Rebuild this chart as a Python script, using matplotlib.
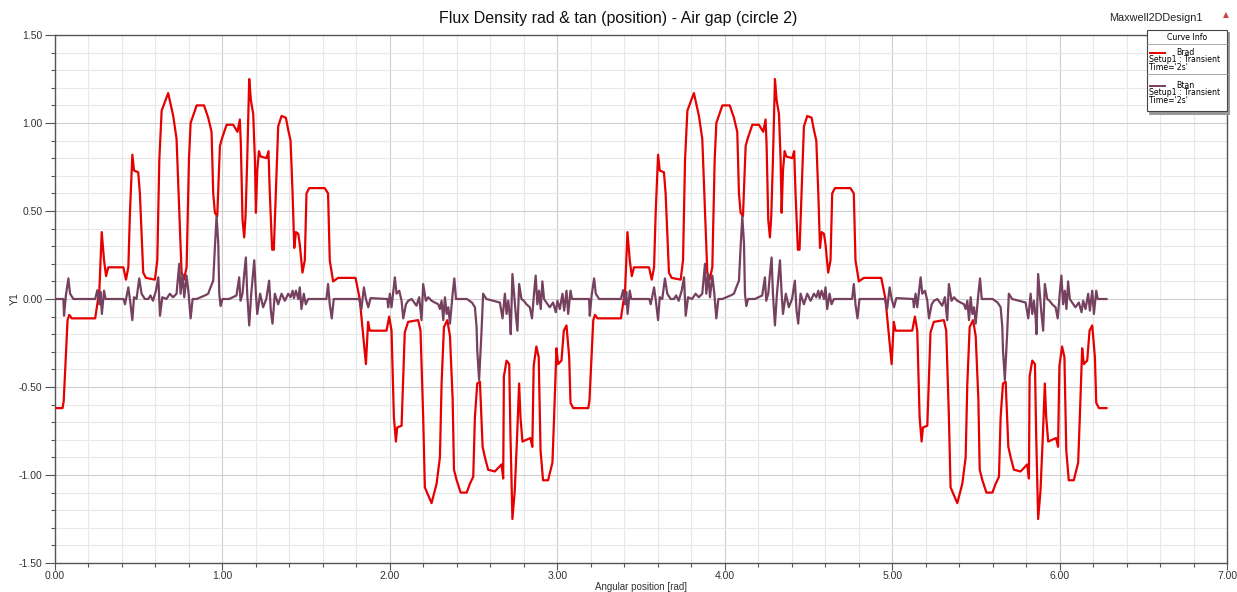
import matplotlib
matplotlib.use("Agg")
import matplotlib.pyplot as plt
from matplotlib.ticker import MultipleLocator, FormatStrFormatter
from matplotlib.patches import Rectangle

plt.rcParams['font.family'] = ['Liberation Sans', 'DejaVu Sans']

# ---- Brad, first period (angle in rad, flux density in T)
brad_angle_a = [
    0.000, 0.045, 0.052, 0.075, 0.085, 0.100, 0.240, 0.265, 0.279, 0.293,
    0.305, 0.318, 0.408, 0.424, 0.438, 0.448, 0.462, 0.472, 0.497, 0.507,
    0.527, 0.543, 0.597, 0.611, 0.623, 0.637, 0.676, 0.706, 0.726, 0.742,
    0.756, 0.770, 0.786, 0.800, 0.810, 0.846, 0.890, 0.915, 0.935, 0.945,
    0.955, 0.969, 0.985, 1.000, 1.025, 1.064, 1.090, 1.104, 1.110, 1.120,
    1.130, 1.138, 1.148, 1.160, 1.170, 1.184, 1.194, 1.200, 1.208, 1.218,
    1.228, 1.263, 1.275, 1.283, 1.297, 1.307, 1.319, 1.333, 1.353, 1.379,
    1.393, 1.407, 1.419, 1.429, 1.439, 1.453, 1.462, 1.478, 1.492, 1.502,
    1.518, 1.611, 1.631, 1.641, 1.661, 1.691, 1.795, 1.820, 1.840, 1.857,
    1.870, 1.880, 1.980, 1.996, 2.010, 2.024, 2.036, 2.044, 2.070, 2.089,
    2.109, 2.169, 2.183, 2.199, 2.209, 2.249, 2.279, 2.299, 2.309, 2.323,
    2.343, 2.359, 2.375, 2.383, 2.399, 2.423, 2.459, 2.478, 2.498, 2.508,
    2.522, 2.538, 2.554, 2.568, 2.587, 2.627, 2.667, 2.677, 2.681, 2.697,
    2.713, 2.720, 2.732, 2.746, 2.760, 2.772, 2.780, 2.792, 2.816, 2.839,
    2.851, 2.859, 2.875, 2.889, 2.900, 2.915, 2.945, 2.971, 2.981, 2.995,
    3.005, 3.025, 3.039, 3.055, 3.071, 3.079, 3.095]
brad_a = [
    -0.62, -0.62, -0.58, -0.12, -0.09, -0.11, -0.11, 0.05, 0.38, 0.22,
    0.13, 0.18, 0.18, 0.11, 0.18, 0.50, 0.82, 0.73, 0.72, 0.60,
    0.15, 0.12, 0.11, 0.22, 0.79, 1.07, 1.17, 1.04, 0.91, 0.50,
    0.15, 0.11, 0.18, 0.79, 1.00, 1.10, 1.10, 1.03, 0.95, 0.60,
    0.49, 0.47, 0.87, 0.92, 0.99, 0.99, 0.95, 1.02, 0.88, 0.45,
    0.35, 0.47, 0.79, 1.25, 1.13, 1.05, 0.79, 0.49, 0.73, 0.84,
    0.81, 0.80, 0.84, 0.60, 0.28, 0.28, 0.60, 0.98, 1.04, 1.03,
    0.96, 0.90, 0.60, 0.29, 0.38, 0.37, 0.31, 0.15, 0.22, 0.60,
    0.63, 0.63, 0.60, 0.22, 0.10, 0.12, 0.12, 0.00, -0.20, -0.37,
    -0.13, -0.18, -0.18, -0.10, -0.18, -0.67, -0.81, -0.73, -0.72, -0.19,
    -0.13, -0.12, -0.18, -0.67, -1.07, -1.16, -1.05, -0.90, -0.48, -0.16,
    -0.12, -0.21, -0.57, -0.97, -1.03, -1.10, -1.10, -1.05, -1.01, -0.67,
    -0.48, -0.47, -0.84, -0.90, -0.97, -0.98, -0.94, -1.02, -0.44, -0.35,
    -0.37, -0.76, -1.25, -1.09, -0.78, -0.48, -0.67, -0.81, -0.80, -0.79,
    -0.84, -0.38, -0.27, -0.33, -0.86, -1.03, -1.03, -0.93, -0.67, -0.28,
    -0.37, -0.35, -0.18, -0.15, -0.33, -0.59, -0.62]

# ---- Brad, second period
brad_angle_b = [
    3.140, 3.185, 3.192, 3.215, 3.225, 3.240, 3.380, 3.405, 3.419, 3.433,
    3.445, 3.458, 3.548, 3.564, 3.578, 3.588, 3.602, 3.612, 3.637, 3.647,
    3.667, 3.683, 3.737, 3.751, 3.763, 3.777, 3.816, 3.846, 3.866, 3.882,
    3.896, 3.910, 3.926, 3.940, 3.950, 3.986, 4.030, 4.055, 4.075, 4.085,
    4.095, 4.109, 4.125, 4.140, 4.165, 4.204, 4.230, 4.244, 4.250, 4.260,
    4.270, 4.278, 4.288, 4.300, 4.310, 4.324, 4.334, 4.340, 4.348, 4.358,
    4.368, 4.403, 4.415, 4.423, 4.437, 4.447, 4.459, 4.473, 4.493, 4.519,
    4.533, 4.547, 4.559, 4.569, 4.579, 4.593, 4.602, 4.618, 4.632, 4.642,
    4.658, 4.751, 4.771, 4.781, 4.801, 4.831, 4.935, 4.960, 4.980, 4.997,
    5.010, 5.020, 5.120, 5.136, 5.150, 5.164, 5.176, 5.184, 5.210, 5.229,
    5.249, 5.309, 5.323, 5.339, 5.349, 5.389, 5.419, 5.439, 5.449, 5.463,
    5.483, 5.499, 5.515, 5.523, 5.539, 5.563, 5.599, 5.618, 5.638, 5.648,
    5.662, 5.678, 5.694, 5.708, 5.727, 5.767, 5.807, 5.817, 5.821, 5.837,
    5.853, 5.860, 5.872, 5.886, 5.900, 5.912, 5.920, 5.932, 5.956, 5.979,
    5.991, 5.999, 6.015, 6.029, 6.040, 6.055, 6.085, 6.111, 6.121, 6.135,
    6.145, 6.165, 6.179, 6.195, 6.211, 6.219, 6.235, 6.280]
brad_b = [
    -0.62, -0.62, -0.58, -0.12, -0.09, -0.11, -0.11, 0.05, 0.38, 0.22,
    0.13, 0.18, 0.18, 0.11, 0.18, 0.50, 0.82, 0.73, 0.72, 0.60,
    0.15, 0.12, 0.11, 0.22, 0.79, 1.07, 1.17, 1.04, 0.91, 0.50,
    0.15, 0.11, 0.18, 0.79, 1.00, 1.10, 1.10, 1.03, 0.95, 0.60,
    0.49, 0.47, 0.87, 0.92, 0.99, 0.99, 0.95, 1.02, 0.88, 0.45,
    0.35, 0.47, 0.79, 1.25, 1.13, 1.05, 0.79, 0.49, 0.73, 0.84,
    0.81, 0.80, 0.84, 0.60, 0.28, 0.28, 0.60, 0.98, 1.04, 1.03,
    0.96, 0.90, 0.60, 0.29, 0.38, 0.37, 0.31, 0.15, 0.22, 0.60,
    0.63, 0.63, 0.60, 0.22, 0.10, 0.12, 0.12, 0.00, -0.20, -0.37,
    -0.13, -0.18, -0.18, -0.10, -0.18, -0.67, -0.81, -0.73, -0.72, -0.19,
    -0.13, -0.12, -0.18, -0.67, -1.07, -1.16, -1.05, -0.90, -0.48, -0.16,
    -0.12, -0.21, -0.57, -0.97, -1.03, -1.10, -1.10, -1.05, -1.01, -0.67,
    -0.48, -0.47, -0.84, -0.90, -0.97, -0.98, -0.94, -1.02, -0.44, -0.35,
    -0.37, -0.76, -1.25, -1.09, -0.78, -0.48, -0.67, -0.81, -0.80, -0.79,
    -0.84, -0.38, -0.27, -0.33, -0.86, -1.03, -1.03, -0.93, -0.67, -0.28,
    -0.37, -0.35, -0.18, -0.15, -0.33, -0.59, -0.62, -0.62]

# ---- Btan, first period
btan_angle_a = [
    0.000, 0.050, 0.054, 0.065, 0.080, 0.090, 0.110, 0.240, 0.253, 0.265,
    0.272, 0.280, 0.293, 0.302, 0.410, 0.418, 0.438, 0.450, 0.462, 0.472,
    0.487, 0.503, 0.517, 0.537, 0.557, 0.570, 0.585, 0.603, 0.617, 0.627,
    0.641, 0.665, 0.686, 0.705, 0.726, 0.742, 0.750, 0.762, 0.772, 0.786,
    0.798, 0.810, 0.822, 0.846, 0.870, 0.895, 0.915, 0.929, 0.945, 0.955,
    0.965, 0.975, 0.981, 0.989, 1.000, 1.040, 1.084, 1.100, 1.108, 1.120,
    1.130, 1.140, 1.148, 1.160, 1.172, 1.190, 1.200, 1.208, 1.225, 1.243,
    1.262, 1.279, 1.289, 1.299, 1.313, 1.333, 1.353, 1.373, 1.393, 1.407,
    1.419, 1.427, 1.439, 1.453, 1.462, 1.472, 1.486, 1.498, 1.512, 1.621,
    1.631, 1.641, 1.653, 1.665, 1.817, 1.830, 1.845, 1.857, 1.871, 1.885,
    1.985, 1.990, 2.000, 2.010, 2.030, 2.040, 2.056, 2.070, 2.080, 2.096,
    2.110, 2.130, 2.159, 2.175, 2.189, 2.199, 2.215, 2.229, 2.249, 2.269,
    2.289, 2.299, 2.309, 2.319, 2.329, 2.339, 2.349, 2.359, 2.375, 2.385,
    2.395, 2.460, 2.490, 2.508, 2.518, 2.522, 2.533, 2.547, 2.557, 2.577,
    2.617, 2.657, 2.673, 2.687, 2.697, 2.707, 2.717, 2.722, 2.732, 2.742,
    2.752, 2.762, 2.772, 2.786, 2.800, 2.816, 2.836, 2.849, 2.861, 2.871,
    2.881, 2.891, 2.901, 2.911, 2.921, 2.935, 2.955, 2.975, 2.991, 3.001,
    3.015, 3.031, 3.041, 3.055, 3.065, 3.079, 3.088]
btan_a = [
    0.000, 0.000, -0.095, 0.020, 0.117, 0.030, 0.000, 0.000, 0.050, -0.030,
    0.040, -0.085, 0.047, 0.000, 0.000, -0.030, 0.066, -0.020, -0.120, 0.010,
    0.000, 0.117, 0.030, 0.000, 0.000, 0.020, -0.010, 0.047, 0.123, -0.095,
    0.010, 0.000, 0.030, 0.010, 0.030, 0.200, 0.030, 0.142, 0.010, 0.133,
    0.030, -0.110, 0.000, 0.000, 0.010, 0.020, 0.030, 0.066, 0.104, 0.294,
    0.470, 0.320, 0.030, -0.040, 0.000, 0.000, 0.020, 0.123, -0.010, 0.030,
    0.142, 0.236, 0.030, -0.150, 0.030, 0.220, 0.030, -0.085, 0.030, -0.047,
    0.000, 0.104, -0.066, -0.140, 0.030, -0.030, 0.030, -0.010, 0.030, 0.010,
    0.047, 0.005, 0.047, 0.000, 0.066, -0.057, 0.030, -0.030, 0.000, 0.000,
    0.085, -0.030, -0.110, 0.000, 0.000, -0.057, 0.066, 0.000, -0.047, 0.005,
    0.000, -0.047, 0.030, -0.047, 0.123, 0.030, 0.047, -0.010, -0.110, -0.030,
    -0.010, 0.000, -0.038, 0.010, -0.120, 0.085, -0.010, 0.010, -0.010, -0.020,
    -0.030, -0.057, -0.010, -0.120, 0.010, -0.085, -0.047, -0.140, 0.030, 0.117,
    0.000, 0.000, -0.020, -0.047, -0.160, -0.290, -0.460, -0.195, 0.030, 0.000,
    -0.010, -0.020, -0.110, 0.030, -0.085, -0.010, -0.104, -0.200, 0.142, 0.030,
    -0.085, -0.180, 0.085, 0.000, -0.010, -0.030, -0.047, -0.110, 0.030, 0.133,
    -0.030, 0.047, -0.057, 0.100, 0.000, -0.020, -0.047, -0.020, -0.075, -0.010,
    -0.057, 0.030, -0.066, 0.047, -0.085, 0.047, 0.000]

# ---- Btan, second period
btan_angle_b = [
    3.140, 3.190, 3.194, 3.205, 3.220, 3.230, 3.250, 3.380, 3.393, 3.405,
    3.412, 3.420, 3.433, 3.442, 3.550, 3.558, 3.578, 3.590, 3.602, 3.612,
    3.627, 3.643, 3.657, 3.677, 3.697, 3.710, 3.725, 3.743, 3.757, 3.767,
    3.781, 3.805, 3.826, 3.845, 3.866, 3.882, 3.890, 3.902, 3.912, 3.926,
    3.938, 3.950, 3.962, 3.986, 4.010, 4.035, 4.055, 4.069, 4.085, 4.095,
    4.105, 4.115, 4.121, 4.129, 4.140, 4.180, 4.224, 4.240, 4.248, 4.260,
    4.270, 4.280, 4.288, 4.300, 4.312, 4.330, 4.340, 4.348, 4.365, 4.383,
    4.402, 4.419, 4.429, 4.439, 4.453, 4.473, 4.493, 4.513, 4.533, 4.547,
    4.559, 4.567, 4.579, 4.593, 4.602, 4.612, 4.626, 4.638, 4.652, 4.761,
    4.771, 4.781, 4.793, 4.805, 4.957, 4.970, 4.985, 4.997, 5.011, 5.025,
    5.125, 5.130, 5.140, 5.150, 5.170, 5.180, 5.196, 5.210, 5.220, 5.236,
    5.250, 5.270, 5.299, 5.315, 5.329, 5.339, 5.355, 5.369, 5.389, 5.409,
    5.429, 5.439, 5.449, 5.459, 5.469, 5.479, 5.489, 5.499, 5.515, 5.525,
    5.535, 5.600, 5.630, 5.648, 5.658, 5.662, 5.673, 5.687, 5.697, 5.717,
    5.757, 5.797, 5.813, 5.827, 5.837, 5.847, 5.857, 5.862, 5.872, 5.882,
    5.892, 5.902, 5.912, 5.926, 5.940, 5.956, 5.976, 5.989, 6.001, 6.011,
    6.021, 6.031, 6.041, 6.051, 6.061, 6.075, 6.095, 6.115, 6.131, 6.141,
    6.155, 6.171, 6.181, 6.195, 6.205, 6.219, 6.228, 6.280]
btan_b = btan_a + [0.000]

fig = plt.figure(figsize=(12.37, 5.92), dpi=100)
ax = fig.add_axes([55 / 1237, 29 / 592, 1172 / 1237, 528 / 592])

red = '#e60000'
purple = '#76405f'
ax.plot(brad_angle_a + brad_angle_b, brad_a + brad_b, color=red, lw=1.6, zorder=3)
ax.plot(btan_angle_a + btan_angle_b, btan_a + btan_b, color=purple, lw=1.6, zorder=4)

ax.set_xlim(0, 7)
ax.set_ylim(-1.5, 1.5)
ax.xaxis.set_major_locator(MultipleLocator(1.0))
ax.xaxis.set_minor_locator(MultipleLocator(0.2))
ax.yaxis.set_major_locator(MultipleLocator(0.5))
ax.yaxis.set_minor_locator(MultipleLocator(0.1))
ax.xaxis.set_major_formatter(FormatStrFormatter('%.2f'))
ax.yaxis.set_major_formatter(FormatStrFormatter('%.2f'))

ax.grid(which='major', color='#cfcfcf', lw=0.8, zorder=0)
ax.grid(which='minor', color='#e8e8e8', lw=0.8, zorder=0)
ax.set_axisbelow(True)

for s in ax.spines.values():
    s.set_color('#555555')
    s.set_linewidth(1.0)
ax.tick_params(axis='y', which='major', length=7, width=0.8, color='#555555',
               labelsize=7.5, labelcolor='#333333', pad=2)
ax.tick_params(axis='x', which='major', length=5, width=0.8, color='#555555',
               labelsize=7.5, labelcolor='#333333', pad=1)
ax.tick_params(which='minor', length=3, width=0.8, color='#555555')

ax.set_xlabel('Angular position [rad]', fontsize=7, color='#333333')
ax.xaxis.set_label_coords(0.5, -0.036)
ax.set_ylabel('Y1', fontsize=7.5, color='#333333')
ax.yaxis.set_label_coords(-0.030, 0.5)

fig.text(0.5, 1 - 18 / 592, 'Flux Density rad & tan (position) - Air gap (circle 2)',
         ha='center', va='center', fontsize=11.5, color='#111111')
fig.text(1203 / 1237, 1 - 18 / 592, 'Maxwell2DDesign1', ha='right', va='center',
         fontsize=7.8, color='#222222')
fig.text(1226 / 1237, 1 - 15 / 592, '\u25b2', ha='center', va='center',
         fontsize=5.5, color='#c8443c', family='DejaVu Sans')

# ---- Curve Info box (pixel-based layout)
lg = fig.add_axes([1147 / 1237, 1 - 113 / 592, 81 / 1237, 83 / 592])
lg.set_xlim(0, 81)
lg.set_ylim(83, 0)
lg.axis('off')
lg.add_patch(Rectangle((2, 2), 81, 83, facecolor='#9a9a9a', edgecolor='none',
                       clip_on=False, zorder=1))
lg.add_patch(Rectangle((0, 0), 80, 81, facecolor='white', edgecolor='#444444',
                       lw=0.8, clip_on=False, zorder=2))
lg.plot([0, 80], [14, 14], color='#999999', lw=0.6, zorder=3)
lg.plot([0, 80], [44, 44], color='#999999', lw=0.6, zorder=3)
lg.text(40, 7.5, 'Curve Info', ha='center', va='center', fontsize=5.6,
        family='DejaVu Sans', zorder=4)
entries = [('Brad', red, 22.5), ('Btan', purple, 55.5)]
for name, col, y0 in entries:
    lg.plot([3, 18], [y0, y0], color=col, lw=1.4, zorder=4)
    lg.text(29, y0, name, ha='left', va='center', fontsize=5.6,
            family='DejaVu Sans', zorder=4)
    lg.text(2, y0 + 7.3, 'Setup1 : Transient', ha='left', va='center',
            fontsize=5.6, family='DejaVu Sans', zorder=4)
    lg.text(2, y0 + 14.6, "Time='2s'", ha='left', va='center', fontsize=5.6,
            family='DejaVu Sans', zorder=4)

fig.savefig('out.png', dpi=100)
